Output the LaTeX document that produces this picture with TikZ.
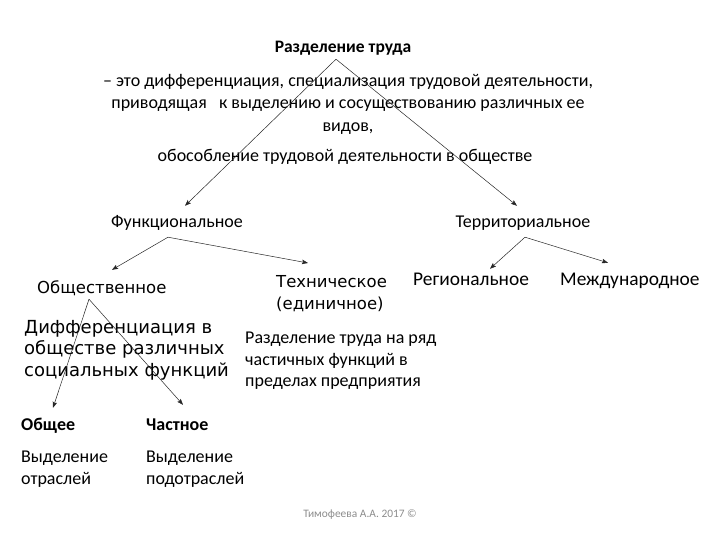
\documentclass[tikz,border=0pt]{standalone}
\usepackage{fontspec}
\setmainfont{Carlito}
\newfontfamily\dejavu{DejaVu Sans}
\usetikzlibrary{arrows.meta}

\begin{document}
\begin{tikzpicture}[x=1pt, y=-1pt,
  lbl/.style={inner sep=0pt, text height=12pt, text depth=4pt, font=\fontsize{18}{22}\selectfont},
  desc/.style={inner sep=0pt, anchor=west, align=left, font=\fontsize{18}{21.5}\selectfont},
  big/.style={inner sep=0pt, font=\dejavu\fontsize{16.5}{22}\selectfont},
  head/.style={lbl, font=\bfseries\fontsize{17.5}{21}\selectfont},
  link/.style={-{Stealth[length=6pt, width=4.5pt, inset=1pt]}, line width=0.5pt, black!85}]
  \useasboundingbox (0,0) rectangle (720,540);

  % --- definition ---
  \node[head] (title) at (343,49) {Разделение труда};
  \node[inner sep=0pt, align=center, font=\fontsize{18}{22.5}\selectfont] (defn) at (348,104)
    {– это дифференциация, специализация трудовой деятельности,\\
     приводящая \ \ к выделению и сосуществованию различных ее\\
     видов,};
  \node[lbl] (apart) at (345,158) {обособление трудовой деятельности в обществе};

  % --- two kinds ---
  \node[lbl] (func) at (177,223) {Функциональное};
  \node[lbl] (terr) at (523,223) {Территориальное};

  % --- functional branch ---
  \node[big, anchor=west, text height=12pt, text depth=4pt] (soc) at (37,289) {Общественное};
  \node[big, anchor=north west, align=left] (tech) at (276,275) {Техническое\\(единичное)};
  \node[desc, font=\dejavu\fontsize{18}{21.5}\selectfont] (socdesc) at (24,350)
    {Дифференциация в\\обществе различных\\социальных функций};
  \node[desc] (techdesc) at (245,361)
    {Разделение труда на ряд\\частичных функций в\\пределах предприятия};

  % --- territorial branch ---
  \node[lbl, anchor=west, font=\fontsize{19.4}{22}\selectfont] (reg) at (413,281) {Региональное};
  \node[lbl, anchor=west, font=\fontsize{19.4}{22}\selectfont] (intl) at (560,281) {Международное};

  % --- general / particular ---
  \node[head, anchor=west, font=\bfseries\fontsize{18}{22}\selectfont] (gen) at (21,426) {Общее};
  \node[head, anchor=west, font=\bfseries\fontsize{18}{22}\selectfont] (part) at (146,426) {Частное};
  \node[desc] (gendesc) at (21,469) {Выделение\\отраслей};
  \node[desc] (partdesc) at (146,469) {Выделение\\подотраслей};

  % footer
  \node[inner sep=0pt, font=\fontsize{11.4}{13}\selectfont, text=black!45] (foot) at (360,515) {Тимофеева А.А. 2017 ©};

  % --- connectors ---
  \draw[link] ([xshift=-7pt, yshift=-2pt]title.south) -- ([xshift=8pt, yshift=9pt]func.north);
  \draw[link] ([xshift=-7pt, yshift=-2pt]title.south) -- ([xshift=-6pt, yshift=9pt]terr.north);
  \draw[link] ([xshift=-9pt, yshift=-6pt]func.south) -- ([xshift=75pt, yshift=11pt]soc.north west);
  \draw[link] ([xshift=-9pt, yshift=-6pt]func.south) -- ([xshift=32pt, yshift=12pt]tech.north west);
  \draw[link] ([xshift=2pt, yshift=-6pt]terr.south) -- ([xshift=77pt, yshift=4pt]reg.north west);
  \draw[link] ([xshift=2pt, yshift=-6pt]terr.south) -- ([xshift=48pt, yshift=10pt]intl.north west);
  \draw[link] ([xshift=52pt, yshift=-2pt]soc.south west) -- ([xshift=32pt, yshift=10pt]gen.north west);
  \draw[link] ([xshift=52pt, yshift=-2pt]soc.south west) -- ([xshift=37pt, yshift=13pt]part.north west);
\end{tikzpicture}
\end{document}
